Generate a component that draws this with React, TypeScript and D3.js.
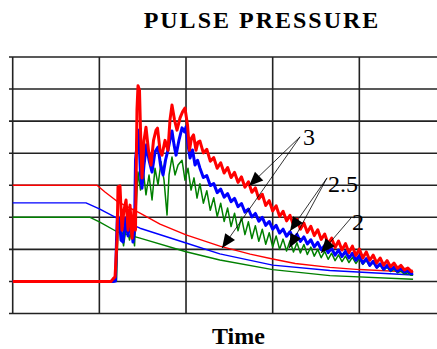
import * as d3 from "d3";

// time in arbitrary units (grid every 10), pressure in arbitrary units (grid every 10)
const timeTicks = [0, 10, 20, 30, 40, 50];
const pressureTicks = [0, 10, 20, 30, 40, 50, 60, 70, 80];

// quasi-static curves
const smoothRed: [number, number][] = [
  [0, 40], [9.73, 40], [10.65, 37.9], [12.04, 35.0], [14.69, 31.3], [17.0, 27.9], [20.0, 24.5],
  [23.9, 21.0], [27.4, 18.5], [30, 17.0], [32.6, 15.6], [36.6, 14.4], [40, 13.7], [46.2, 12.9],
];
const smoothBlue: [number, number][] = [
  [0, 34.5], [8.46, 34.5], [10.0, 32.6], [12.04, 29.75], [14.69, 26.6], [20.0, 22.0],
  [23.9, 18.6], [30, 15.1], [36.6, 13.4], [46.2, 12.0],
];
const smoothGreen: [number, number][] = [
  [0, 30], [8.93, 30], [10.0, 28.6], [12.04, 25.5], [14.69, 23.5], [20.0, 19.25],
  [23.9, 16.7], [30, 13.7], [36.6, 11.8], [46.2, 10.7],
];

// pulse curves
const pulseRed: [number, number][] = [
  [0, 10], [11.34, 10], [11.58, 10.8], [11.81, 11.4], [12.04, 22.9], [12.15, 39.5], [12.38, 39.8],
  [12.61, 26.0], [12.84, 32.3], [13.08, 35.4], [13.31, 26.0], [13.54, 33.8], [13.77, 23.5],
  [14.0, 32.3], [14.17, 26.0], [14.34, 63.5], [14.46, 71.0], [14.63, 69.7], [14.75, 57.2],
  [14.92, 42.3], [15.15, 54.0], [15.38, 58.1], [15.67, 50.9], [15.96, 46.3], [16.25, 54.0],
  [16.54, 57.2], [16.71, 57.8], [17.0, 50.9], [17.23, 49.4], [17.58, 54.0], [17.92, 50.9],
  [18.15, 60.4], [18.38, 65.0], [18.67, 60.4], [18.96, 57.2], [19.31, 61.0], [19.6, 62.9],
  [19.88, 64.1], [20.17, 58.8], [20.4, 50.9], [20.63, 54.7], [20.87, 55.7], [21.15, 50.9],
  [21.38, 53.5],
  [21.6, 53.8], [22.0, 50.1], [22.4, 51.2], [22.8, 47.5], [23.2, 48.6], [23.6, 45.3], [24.0, 47.0],
  [24.4, 43.8], [24.8, 45.5], [25.2, 42.4], [25.6, 44.0], [26.0, 40.9], [26.4, 42.6], [26.8, 39.4],
  [27.2, 41.1], [27.6, 37.8], [28.0, 39.2], [28.4, 35.8], [28.8, 37.2], [29.2, 33.7], [29.6, 35.2],
  [30.0, 32.0], [30.4, 33.6], [30.8, 30.3], [31.2, 31.9], [31.6, 28.9], [32.0, 30.6], [32.4, 27.6],
  [32.8, 29.4], [33.2, 26.3], [33.6, 28.2], [34.0, 25.3], [34.4, 27.2], [34.8, 24.3], [35.2, 26.1],
  [35.6, 23.1], [36.0, 24.8], [36.4, 21.7], [36.8, 23.5], [37.2, 20.6], [37.6, 22.6], [38.0, 19.8],
  [38.4, 21.8], [38.8, 19.0], [39.2, 21.0], [39.6, 18.1], [40.0, 20.1], [40.4, 17.3], [40.8, 19.2],
  [41.2, 16.6], [41.6, 18.2], [42.0, 15.8], [42.4, 17.3], [42.8, 15.1], [43.2, 16.5], [43.6, 14.6],
  [44.0, 15.7], [44.4, 14.1], [44.8, 15.0], [45.2, 13.6], [45.6, 14.2], [46.0, 13.1], [46.2, 13.3],
];
const pulseBlue: [number, number][] = [
  [0, 10], [11.58, 10], [11.86, 10.1], [11.98, 22.9], [12.09, 30.7], [12.33, 28.5], [12.5, 22.9],
  [12.73, 22.3], [13.02, 29.8], [13.31, 24.2], [13.6, 30.7], [13.88, 22.3], [14.06, 26.0],
  [14.17, 47.8], [14.29, 51.0], [14.46, 57.2], [14.58, 54.1], [14.75, 43.2], [14.92, 39.1],
  [15.15, 46.3], [15.44, 52.6], [15.73, 47.8], [16.08, 44.1], [16.42, 50.4], [16.77, 51.9],
  [17.06, 46.3], [17.35, 43.2], [17.63, 47.8], [17.92, 51.0], [18.15, 54.1], [18.38, 56.9],
  [18.62, 52.6], [18.85, 49.4], [19.19, 54.1], [19.54, 57.9], [19.83, 56.6], [20.0, 58.2],
  [20.23, 52.6], [20.46, 48.5], [20.75, 51.0], [21.04, 46.3], [21.33, 47.8],
  [21.6, 45.4], [22.0, 42.4], [22.4, 43.0], [22.8, 39.9], [23.2, 40.5], [23.6, 37.7], [24.0, 38.8],
  [24.4, 36.3], [24.8, 37.4], [25.2, 34.9], [25.6, 35.9], [26.0, 33.3], [26.4, 34.3], [26.8, 31.6],
  [27.2, 32.6], [27.6, 30.1], [28.0, 31.2], [28.4, 28.8], [28.8, 30.0], [29.2, 27.5], [29.6, 28.7],
  [30.0, 26.3], [30.4, 27.5], [30.8, 25.1], [31.2, 26.3], [31.6, 24.1], [32.0, 25.5], [32.4, 23.3],
  [32.8, 24.7], [33.2, 22.5], [33.6, 23.9], [34.0, 21.7], [34.4, 23.0], [34.8, 20.8], [35.2, 22.2],
  [35.6, 19.9], [36.0, 21.2], [36.4, 19.0], [36.8, 20.3], [37.2, 18.2], [37.6, 19.8], [38.0, 17.8],
  [38.4, 19.4], [38.8, 17.3], [39.2, 18.8], [39.6, 16.6], [40.0, 18.0], [40.4, 15.7], [40.8, 17.1],
  [41.2, 15.0], [41.6, 16.3], [42.0, 14.4], [42.4, 15.5], [42.8, 13.8], [43.2, 15.0], [43.6, 13.5],
  [44.0, 14.5], [44.4, 13.2], [44.8, 14.0], [45.2, 12.9], [45.6, 13.4], [46.0, 12.4], [46.2, 12.6],
];
const pulseGreen: [number, number][] = [
  [0, 10], [11.75, 10], [11.98, 10.1], [12.15, 26.7], [12.5, 27.3], [12.79, 21.1], [13.13, 27.6],
  [13.48, 22.9], [13.77, 27.0], [14.06, 21.1], [14.29, 35.4], [14.46, 44.1], [14.75, 38.5],
  [15.04, 45.3], [15.38, 37.0], [15.73, 43.2], [16.08, 35.4], [16.42, 45.3], [16.77, 40.1],
  [17.12, 47.3], [17.46, 41.6], [17.81, 30.7], [18.04, 43.2], [18.38, 48.8], [18.73, 43.2],
  [19.08, 46.3], [19.54, 47.8], [19.88, 41.6], [20.23, 45.3], [20.58, 38.5], [20.92, 42.3],
  [21.27, 36.0],
  [21.6, 40.5], [22.0, 34.4], [22.4, 38.3], [22.8, 32.2], [23.2, 36.1], [23.6, 30.2], [24.0, 34.4],
  [24.4, 28.7], [24.8, 32.9], [25.2, 27.1], [25.6, 31.3], [26.0, 25.8], [26.4, 30.0], [26.8, 24.6],
  [27.2, 28.6], [27.6, 23.4], [28.0, 27.4], [28.4, 22.5], [28.8, 26.3], [29.2, 21.6], [29.6, 25.2],
  [30.0, 20.8], [30.4, 24.2], [30.8, 20.0], [31.2, 23.2], [31.6, 19.5], [32.0, 22.7], [32.4, 19.2],
  [32.8, 22.1], [33.2, 18.9], [33.6, 21.5], [34.0, 18.4], [34.4, 20.7], [34.8, 17.9], [35.2, 20.0],
  [35.6, 17.4], [36.0, 19.4], [36.4, 16.9], [36.8, 18.8], [37.2, 16.5], [37.6, 18.3], [38.0, 16.2],
  [38.4, 17.9], [38.8, 15.9], [39.2, 17.5], [39.6, 15.6], [40.0, 17.1], [40.4, 15.3], [40.8, 16.6],
  [41.2, 14.8], [41.6, 15.9], [42.0, 14.2], [42.4, 15.0], [42.8, 13.5], [43.2, 14.4], [43.6, 13.1],
  [44.0, 13.8], [44.4, 12.7], [44.8, 13.2], [45.2, 12.3], [45.6, 12.7], [46.0, 11.9], [46.2, 12.0],
];

// annotations, in data units
const labelTexts = ["3", "2.5", "2"];
const labelAt: [number, number][] = [[33.5, 52.5], [36.39, 37.9], [39.16, 26.0]];
const arrowFrom: [number, number][] = [[33.16, 55.1], [33.16, 55.1], [36.27, 42.3], [36.27, 42.3], [39.04, 29.8]];
const arrowTo: [number, number][] = [[27.27, 39.8], [24.16, 20.4], [32.0, 25.7], [31.9, 20.4], [35.58, 18.9]];

const RED = "#ff0000";
const BLUE = "#0000ff";
const GREEN = "#008000";
const GRID = "#222";
const SERIF = "'Liberation Serif', 'Times New Roman', serif";

export default function App() {
  const width = 437;
  const height = 349;

  const x = d3.scaleLinear().domain([0, 50]).range([12.7, 446]);
  const y = d3.scaleLinear().domain([0, 80]).range([313.5, 57]);

  const line = d3.line<[number, number]>()
    .x(d => x(d[0]))
    .y(d => y(d[1]));

  const curves = [
    { d: smoothGreen, c: GREEN, w: 1.4 },
    { d: smoothBlue, c: BLUE, w: 1.4 },
    { d: smoothRed, c: RED, w: 1.4 },
    { d: pulseGreen, c: GREEN, w: 1.5 },
    { d: pulseBlue, c: BLUE, w: 3 },
    { d: pulseRed, c: RED, w: 3 },
  ];

  const heads = arrowFrom.map((f, i) => {
    const x1 = x(f[0]), y1 = y(f[1]);
    const x2 = x(arrowTo[i][0]), y2 = y(arrowTo[i][1]);
    const len = Math.hypot(x2 - x1, y2 - y1);
    const ux = (x2 - x1) / len, uy = (y2 - y1) / len;
    const L = 14, hw = 6;
    const bx = x2 - ux * L, by = y2 - uy * L;
    return {
      x1, y1, x2, y2,
      pts: `${x2},${y2} ${bx - uy * hw},${by + ux * hw} ${bx + uy * hw},${by - ux * hw}`,
    };
  });

  return (
    <svg width={width} height={height} style={{ position: "absolute", left: 0, top: 0, background: "#fff" }}>
      <text x={262} y={27.5} textAnchor="middle" fontFamily={SERIF} fontWeight="bold" fontSize={24} letterSpacing={2}>
        PULSE PRESSURE
      </text>

      {/* grid */}
      {pressureTicks.map(v => (
        <line key={"h" + v} x1={9} x2={width} y1={y(v)} y2={y(v)} stroke={GRID} strokeWidth={1.6} />
      ))}
      {timeTicks.map(t => (
        <line key={"v" + t} x1={x(t)} x2={x(t)} y1={y(80)} y2={y(0)} stroke={GRID} strokeWidth={1.6} />
      ))}

      {curves.map((s, i) => (
        <path key={i} d={line(s.d) || ""} fill="none" stroke={s.c} strokeWidth={s.w} strokeLinejoin="round" />
      ))}

      {heads.map((h, i) => (
        <g key={"a" + i}>
          <line x1={h.x1} y1={h.y1} x2={h.x2} y2={h.y2} stroke="#000" strokeWidth={0.8} />
          <polygon points={h.pts} fill="#000" />
        </g>
      ))}
      {labelTexts.map((t, i) => (
        <text key={t} x={x(labelAt[i][0])} y={y(labelAt[i][1])} fontFamily={SERIF} fontSize={24}>
          {t}
        </text>
      ))}

      <text x={238.5} y={343.5} textAnchor="middle" fontFamily={SERIF} fontWeight="bold" fontSize={24}>
        Time
      </text>
    </svg>
  );
}
